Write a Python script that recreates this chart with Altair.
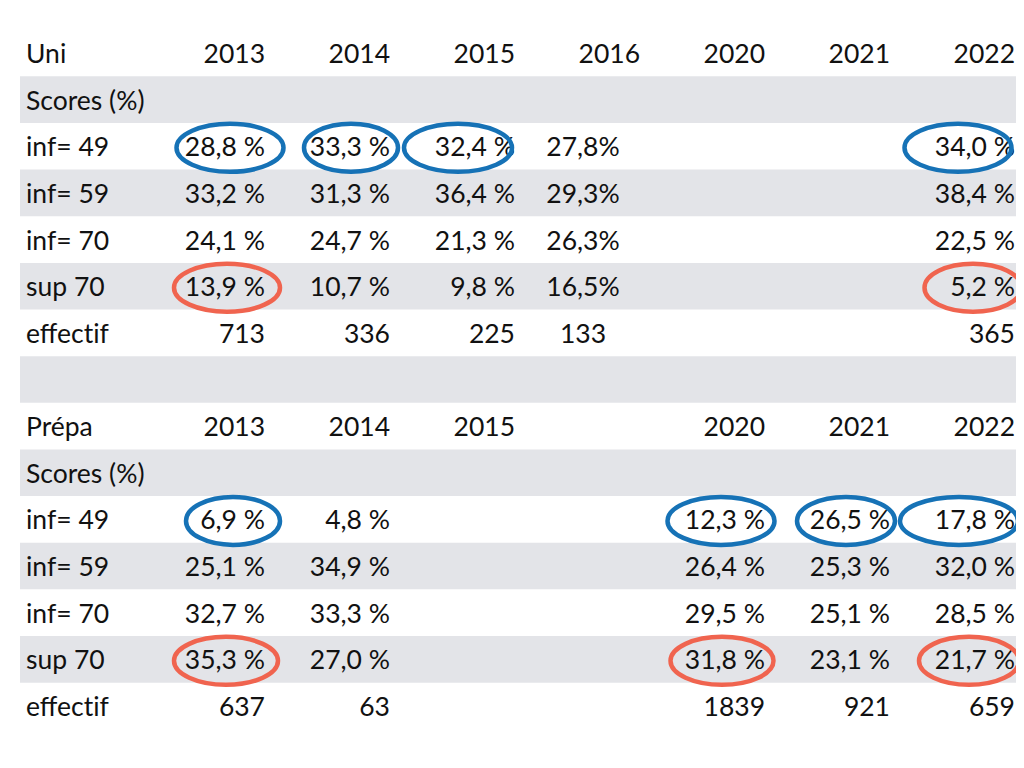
import altair as alt
import pandas as pd

# ---------------- data ----------------
row_labels = ["Scores (%)", "inf= 49", "inf= 59", "inf= 70", "sup 70", "effect\u200cif"]

uni_header = ["2013", "2014", "2015", "2016", "2020", "2021", "2022"]
uni_inf49 = ["28,8 %", "33,3 %", "32,4 %", "27,8%", "", "", "34,0 %"]
uni_inf59 = ["33,2 %", "31,3 %", "36,4 %", "29,3%", "", "", "38,4 %"]
uni_inf70 = ["24,1 %", "24,7 %", "21,3 %", "26,3%", "", "", "22,5 %"]
uni_sup70 = ["13,9 %", "10,7 %", "9,8 %", "16,5%", "", "", "5,2 %"]
uni_effectif = ["713", "336", "225", "133", "", "", "365"]

prepa_header = ["2013", "2014", "2015", "", "2020", "2021", "2022"]
prepa_inf49 = ["6,9 %", "4,8 %", "", "", "12,3 %", "26,5 %", "17,8 %"]
prepa_inf59 = ["25,1 %", "34,9 %", "", "", "26,4 %", "25,3 %", "32,0 %"]
prepa_inf70 = ["32,7 %", "33,3 %", "", "", "29,5 %", "25,1 %", "28,5 %"]
prepa_sup70 = ["35,3 %", "27,0 %", "", "", "31,8 %", "23,1 %", "21,7 %"]
prepa_effectif = ["637", "63", "", "", "1839", "921", "659"]

# highlighted cells: (section, row label, column index, kind)
highlights = [
    ("Uni", "inf= 49", 0, "blue"), ("Uni", "inf= 49", 1, "blue"),
    ("Uni", "inf= 49", 2, "blue"), ("Uni", "inf= 49", 6, "blue"),
    ("Uni", "sup 70", 0, "red"), ("Uni", "sup 70", 6, "red"),
    ("Prépa", "inf= 49", 0, "blue"), ("Prépa", "inf= 49", 4, "blue"),
    ("Prépa", "inf= 49", 5, "blue"), ("Prépa", "inf= 49", 6, "blue"),
    ("Prépa", "sup 70", 0, "red"), ("Prépa", "sup 70", 4, "red"),
    ("Prépa", "sup 70", 6, "red"),
]

# ---------------- layout / style ----------------
FONT = "Lato"
FS = 26.5
TEXT_DY = 2
ROW0 = 53.0
ROW_H = 46.64
LABEL_X = 26
COL_RIGHT = [265, 390, 515, 640, 765, 890, 1015]
COL2016_CENTER = 583
BAND_X = (20, 1020)
BLUE = "#1672b6"
RED = "#f0644f"
GRAY = "#e3e4e8"
# per-highlight offset of ellipse centre from the column's right edge, and ellipse width
ELL_DX = [-35, -39, -57, -57, -38, -42, -32, -44, -44, -56, -39, -43, -46]
ELL_W = [107, 94, 108, 107, 106, 97, 94, 107, 98, 118, 104, 103, 100]
ELL_H = 48
ELL_DY = 1.5

sections = [
    ("Uni", uni_header, [uni_inf49, uni_inf59, uni_inf70, uni_sup70, uni_effectif]),
    ("Prépa", prepa_header, [prepa_inf49, prepa_inf59, prepa_inf70, prepa_sup70, prepa_effectif]),
]

def row_y(i):
    return ROW0 + ROW_H * i

labels, values_r, values_c = [], [], []
row_index = {}
r = 0
for name, header, rows in sections:
    labels.append({"x": LABEL_X, "y": row_y(r), "t": name})
    for c, h in enumerate(header):
        if h:
            values_r.append({"x": COL_RIGHT[c], "y": row_y(r), "t": h})
    r += 1
    labels.append({"x": LABEL_X, "y": row_y(r), "t": row_labels[0]})
    r += 1
    for lab, vals in zip(row_labels[1:], rows):
        row_index[(name, lab)] = r
        labels.append({"x": LABEL_X, "y": row_y(r), "t": lab})
        for c, v in enumerate(vals):
            if not v:
                continue
            if c == 3:
                values_c.append({"x": COL2016_CENTER, "y": row_y(r), "t": v})
            else:
                values_r.append({"x": COL_RIGHT[c], "y": row_y(r), "t": v})
        r += 1
    r += 1  # blank separator row
n_rows = r - 1

bands = [{"x": BAND_X[0], "x2": BAND_X[1],
          "y": row_y(i) - ROW_H / 2, "y2": row_y(i) + ROW_H / 2}
         for i in range(1, n_rows, 2)]


def ellipse_path(ry):
    k = 0.5523
    return (f"M -1 0 C -1 {-k*ry:.4f} {-k:.4f} {-ry:.4f} 0 {-ry:.4f} "
            f"C {k:.4f} {-ry:.4f} 1 {-k*ry:.4f} 1 0 "
            f"C 1 {k*ry:.4f} {k:.4f} {ry:.4f} 0 {ry:.4f} "
            f"C {-k:.4f} {ry:.4f} -1 {k*ry:.4f} -1 0 Z")


ells = []
for k, (sec, lab, c, kind) in enumerate(highlights):
    w = ELL_W[k]
    ells.append({"x": COL_RIGHT[c] + ELL_DX[k],
                 "y": row_y(row_index[(sec, lab)]) + ELL_DY,
                 "shape": ellipse_path(ELL_H / w), "size": w * w, "kind": kind})

xs = alt.Scale(domain=[8, 1016], nice=False, zero=False)
ys = alt.Scale(domain=[760, 8], nice=False, zero=False)
X = lambda f: alt.X(f"{f}:Q", scale=xs, axis=None)
Y = lambda f: alt.Y(f"{f}:Q", scale=ys, axis=None)

band_layer = alt.Chart(pd.DataFrame(bands)).mark_rect(color=GRAY).encode(
    x=X("x"), x2="x2", y=Y("y"), y2="y2")

text_style = dict(baseline="middle", font=FONT, fontSize=FS, color="#111111", dy=TEXT_DY)

label_layer = alt.Chart(pd.DataFrame(labels)).mark_text(align="left", **text_style).encode(
    x=X("x"), y=Y("y"), text="t:N")

right_layer = alt.Chart(pd.DataFrame(values_r)).mark_text(align="right", **text_style).encode(
    x=X("x"), y=Y("y"), text="t:N")

center_layer = alt.Chart(pd.DataFrame(values_c)).mark_text(align="center", **text_style).encode(
    x=X("x"), y=Y("y"), text="t:N")

ell_layer = alt.Chart(pd.DataFrame(ells)).mark_point(
    filled=False, strokeWidth=4.5, opacity=1
).encode(
    x=X("x"), y=Y("y"),
    shape=alt.Shape("shape:N", scale=None, legend=None),
    size=alt.Size("size:Q", scale=None, legend=None),
    color=alt.Color("kind:N", scale=alt.Scale(domain=["blue", "red"], range=[BLUE, RED]), legend=None),
)

chart = alt.layer(band_layer, label_layer, right_layer, center_layer, ell_layer).properties(
    width=1008, height=752, padding=0, autosize="none", background="white"
).configure_view(stroke=None)

chart.save("out.html", embed_options={"renderer": "svg", "actions": False})
